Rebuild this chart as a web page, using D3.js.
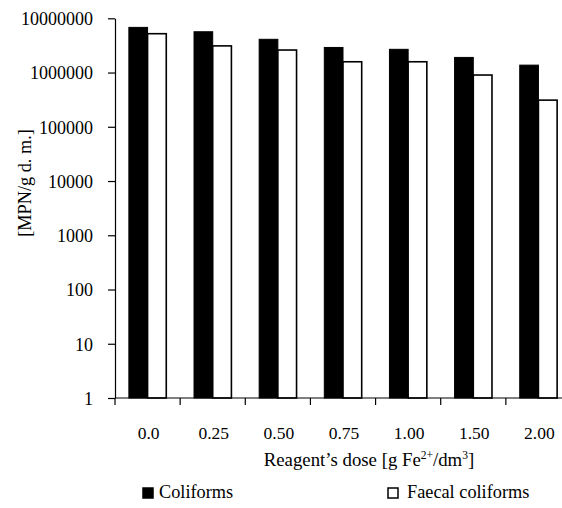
<!DOCTYPE html>
<html>
<head>
<meta charset="utf-8">
<script src="https://cdn.jsdelivr.net/npm/d3@7"></script>
<style>
  html, body { margin: 0; padding: 0; background: #fff; }
  svg { display: block; }
  svg text { font-family: "Liberation Serif", "Times New Roman", Tinos, "DejaVu Serif", "Noto Serif", serif !important; fill: #000; }
</style>
</head>
<body>
<svg id="chart" width="562" height="508"></svg>
<script>
// Reagent doses (g Fe2+/dm3)
const doses = ["0.0", "0.25", "0.50", "0.75", "1.00", "1.50", "2.00"];
// Most probable number per gram of dry matter
const coliforms       = [6800000, 5650000, 4100000, 2900000, 2680000, 1900000, 1370000];
const faecalColiforms = [5200000, 3100000, 2600000, 1580000, 1580000, 900000, 310000];
const seriesNames = ["Coliforms", "Faecal coliforms"];
const yTicks = [1, 10, 100, 1000, 10000, 100000, 1000000, 10000000];

const FONT = "'Liberation Serif', 'Times New Roman', 'DejaVu Serif', serif";

const svg = d3.select("#chart");
const plot = { left: 115, right: 571, top: 18.3, bottom: 398 };

const x = d3.scaleBand()
  .domain(doses)
  .range([plot.left, plot.right])
  .paddingInner(0.426)
  .paddingOuter(0.213);

const xSeries = d3.scaleBand()
  .domain(seriesNames)
  .range([0, x.bandwidth()]);

const y = d3.scaleLog()
  .domain([1, 1e7])
  .range([plot.bottom, plot.top]);

const rows = doses.map((d, i) => ({
  dose: d,
  values: [
    { name: seriesNames[0], value: coliforms[i] },
    { name: seriesNames[1], value: faecalColiforms[i] }
  ]
}));

// Bars
const groups = svg.append("g").selectAll("g")
  .data(rows)
  .join("g")
  .attr("transform", d => `translate(${x(d.dose)},0)`);

groups.selectAll("rect")
  .data(d => d.values)
  .join("rect")
  .attr("x", d => xSeries(d.name))
  .attr("y", d => y(d.value))
  .attr("width", xSeries.bandwidth())
  .attr("height", d => y(1) - y(d.value))
  .attr("fill", d => d.name === seriesNames[0] ? "#000" : "#fff")
  .attr("stroke", "#000")
  .attr("stroke-width", d => d.name === seriesNames[0] ? 1 : 1.6);

// Y axis
const yAxis = svg.append("g")
  .attr("transform", `translate(${plot.left},0)`)
  .call(d3.axisLeft(y)
    .tickValues(yTicks)
    .tickFormat(d3.format("d"))
    .tickSize(7)
    .tickSizeOuter(0)
    .tickPadding(15));
yAxis.attr("font-family", FONT).attr("font-size", 18);
yAxis.select(".domain").attr("stroke", "#000").attr("stroke-width", 1.2);
yAxis.selectAll(".tick line").attr("stroke", "#000").attr("stroke-width", 1.2);
yAxis.selectAll(".tick text")
  .attr("font-size", 18)
  .attr("dy", "0.35em");

// X axis line and category boundary ticks
const xAxis = svg.append("g");
xAxis.append("line")
  .attr("x1", plot.left).attr("x2", plot.right)
  .attr("y1", plot.bottom).attr("y2", plot.bottom)
  .attr("stroke", "#000").attr("stroke-width", 1.2);
const boundaries = doses.map(d => x(d) - x.step() * x.paddingOuter());
xAxis.selectAll("line.tick")
  .data(boundaries)
  .join("line")
  .attr("class", "tick")
  .attr("x1", d => d).attr("x2", d => d)
  .attr("y1", plot.bottom).attr("y2", plot.bottom + 7)
  .attr("stroke", "#000").attr("stroke-width", 1.2);

xAxis.selectAll("text.label")
  .data(doses)
  .join("text")
  .attr("class", "label")
  .attr("x", d => x(d) + x.bandwidth() / 2 + 1)
  .attr("y", 439)
  .attr("text-anchor", "middle")
  .attr("font-size", 17.5)
  .text(d => d);

// X axis title
const xt = svg.append("text")
  .attr("x", 369)
  .attr("y", 466)
  .attr("text-anchor", "middle")
  .attr("font-size", 18.8);
xt.append("tspan").text("Reagent\u2019s dose [g Fe");
xt.append("tspan").attr("font-size", 11.5).attr("dy", -7).text("2+");
xt.append("tspan").attr("dy", 7).text("/dm");
xt.append("tspan").attr("font-size", 11.5).attr("dy", -7).text("3");
xt.append("tspan").attr("dy", 7).text("]");

// Y axis title
svg.append("text")
  .attr("transform", "translate(31,183) rotate(-90)")
  .attr("text-anchor", "middle")
  .attr("font-size", 18.3)
  .text("[MPN/g d. m.]");

// Legend
const legendItems = [
  { name: seriesNames[0], fill: "#000", sx: 143, tx: 159 },
  { name: seriesNames[1], fill: "#fff", sx: 388, tx: 407 }
];
const legend = svg.append("g");
legend.selectAll("rect")
  .data(legendItems)
  .join("rect")
  .attr("x", d => d.sx)
  .attr("y", 488)
  .attr("width", 10)
  .attr("height", 10)
  .attr("fill", d => d.fill)
  .attr("stroke", "#000")
  .attr("stroke-width", 1.5);
legend.selectAll("text")
  .data(legendItems)
  .join("text")
  .attr("x", d => d.tx)
  .attr("y", 498)
  .attr("font-size", 18.3)
  .text(d => d.name);
</script>
</body>
</html>
